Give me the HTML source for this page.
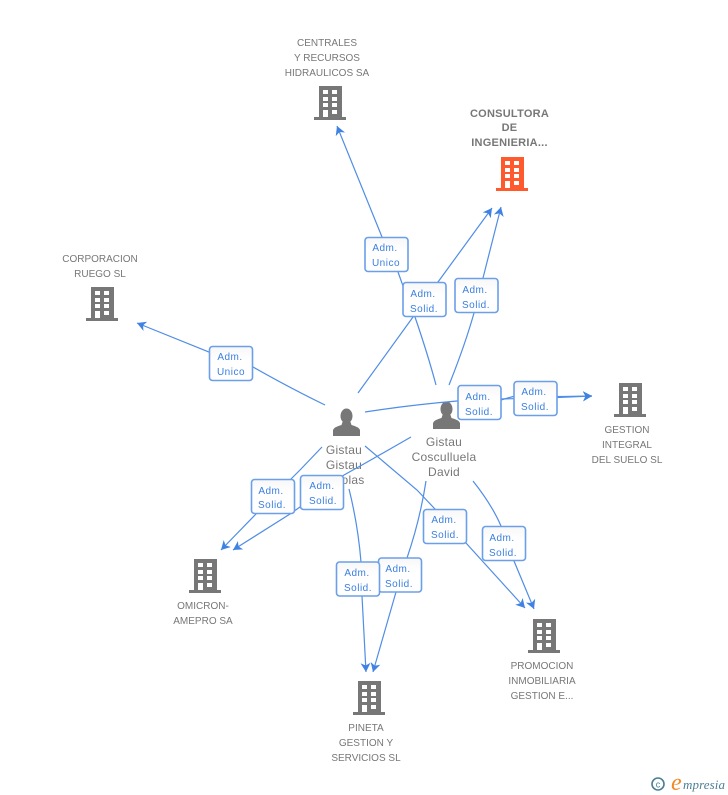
<!DOCTYPE html>
<html>
<head>
<meta charset="utf-8">
<style>
html,body{margin:0;padding:0;background:#fff;}
body{width:728px;height:795px;overflow:hidden;}
svg{display:block;}
.n{font:10px "Liberation Sans",sans-serif;fill:#777;text-anchor:middle;}
.b{font:bold 11px "Liberation Sans",sans-serif;fill:#777;text-anchor:middle;letter-spacing:.25px;}
.p{font:12px "Liberation Sans",sans-serif;fill:#777;text-anchor:middle;letter-spacing:.25px;}
.l{font:10px "Liberation Sans",sans-serif;fill:#3a7fe0;text-anchor:middle;letter-spacing:.5px;}
.a{fill:none;stroke:#4f8de6;stroke-width:1.2;marker-end:url(#ah);}
.box{fill:url(#g);stroke:#6b9fe9;stroke-width:1.6;}
</style>
</head>
<body>
<svg width="728" height="795" viewBox="0 0 728 795" xmlns="http://www.w3.org/2000/svg">
<defs>
<linearGradient id="g" x1="0" y1="0" x2="0" y2="1"><stop offset="0" stop-color="#f7f7f7"/><stop offset=".4" stop-color="#fff"/><stop offset="1" stop-color="#fff"/></linearGradient>
<marker id="ah" markerUnits="userSpaceOnUse" markerWidth="14" markerHeight="14" refX="9" refY="5" orient="auto">
<path d="M9,5 L0,0 L2.5,5 L0,10 Z" fill="#3f82e2"/>
</marker>
<g id="bld">
<rect x="5" y="0" width="23" height="32"/>
<rect x="0" y="31" width="32" height="3"/>
<g fill="#fff">
<rect x="9" y="4" width="5" height="4"/><rect x="18" y="4" width="5" height="4"/>
<rect x="9" y="11" width="5" height="4"/><rect x="18" y="11" width="5" height="4"/>
<rect x="9" y="17" width="5" height="4"/><rect x="18" y="17" width="5" height="4"/>
<rect x="9" y="24" width="5" height="7"/><rect x="18" y="24" width="5" height="4"/>
</g>
</g>
<g id="per">
<ellipse cx="13.500" cy="7" rx="6" ry="7.500"/>
<path d="M9.500,13 L17.500,13 L18.500,16 Q26,18 27,21 L27,27 L0,27 L0,21 Q1,18 8.500,16 Z"/>
</g>
</defs>

<!-- text -->
<text class="n" x="327" y="46">CENTRALES</text>
<text class="n" x="327" y="61">Y RECURSOS</text>
<text class="n" x="327" y="76">HIDRAULICOS SA</text>
<text class="b" x="509.500" y="117">CONSULTORA</text>
<text class="b" x="509.500" y="131">DE</text>
<text class="b" x="509.500" y="146">INGENIERIA...</text>
<text class="n" x="100" y="262">CORPORACION</text>
<text class="n" x="100" y="277">RUEGO SL</text>
<text class="n" x="627" y="433">GESTION</text>
<text class="n" x="627" y="448">INTEGRAL</text>
<text class="n" x="627" y="463">DEL SUELO SL</text>
<text class="n" x="203" y="609">OMICRON-</text>
<text class="n" x="203" y="624">AMEPRO SA</text>
<text class="n" x="542" y="669">PROMOCION</text>
<text class="n" x="542" y="684">INMOBILIARIA</text>
<text class="n" x="542" y="699">GESTION E...</text>
<text class="n" x="366" y="731">PINETA</text>
<text class="n" x="366" y="746">GESTION Y</text>
<text class="n" x="366" y="761">SERVICIOS SL</text>
<text class="p" x="344" y="454">Gistau</text>
<text class="p" x="344" y="469">Gistau</text>
<text class="p" x="344" y="484">Nicolas</text>
<text class="p" x="444" y="446">Gistau</text>
<text class="p" x="444" y="461">Cosculluela</text>
<text class="p" x="444" y="476">David</text>

<!-- icons -->
<use href="#bld" x="314" y="86" fill="#777"/>
<use href="#bld" x="496" y="157" fill="#ff5a2d"/>
<use href="#bld" x="86" y="287" fill="#777"/>
<use href="#bld" x="614" y="383" fill="#777"/>
<use href="#bld" x="189" y="559" fill="#777"/>
<use href="#bld" x="528" y="619" fill="#777"/>
<use href="#bld" x="353" y="681" fill="#777"/>
<use href="#per" x="333" y="409" fill="#777"/>
<use href="#per" x="433" y="402" fill="#777"/>

<!-- connectors -->
<path class="a" d="M436,385 Q428,355 415,317 Q405,292 398,272 L382,237 L337,126"/>
<path class="a" d="M358,393 L413,317 L438,282 L492,208"/>
<path class="a" d="M449,385 Q465,345 474,313 L483,278 L501,207"/>
<path class="a" d="M365,412 Q410,405 457,401 L501,399 L557,397.500 L592,396"/>
<path class="a" d="M501,400 L513,396.500 Q550,397 592,396"/>
<path class="a" d="M325,405 Q290,388 253,367 L209,352 L137,323"/>
<path class="a" d="M322,447 L300,470 L291,479 L256,514 L221,550"/>
<path class="a" d="M411,437 L362,465 L344,475 L300,507 L290,514 L233,550"/>
<path class="a" d="M365,446 L417,490 L435,509 L466,543 L525,608"/>
<path class="a" d="M473,481 Q492,505 501,526 L514,561 L534,609"/>
<path class="a" d="M349,489 Q358,525 361,562 L362,596 L366,672"/>
<path class="a" d="M426,481 Q420,520 407,558 L396,592 L373,672"/>

<!-- label boxes -->
<g>
<rect class="box" x="365" y="237.500" width="43" height="34" rx="3"/><text class="l" x="385" y="251">Adm.</text><text class="l" x="386" y="266">Unico</text>
<rect class="box" x="403" y="282.500" width="43" height="34" rx="3"/><text class="l" x="423" y="297">Adm.</text><text class="l" x="424" y="312">Solid.</text>
<rect class="box" x="455" y="278.500" width="43" height="34" rx="3"/><text class="l" x="475" y="293">Adm.</text><text class="l" x="476" y="308">Solid.</text>
<rect class="box" x="458" y="385.500" width="43" height="34" rx="3"/><text class="l" x="478" y="400">Adm.</text><text class="l" x="479" y="415">Solid.</text>
<rect class="box" x="514" y="381.500" width="43" height="34" rx="3"/><text class="l" x="534" y="395">Adm.</text><text class="l" x="535" y="410">Solid.</text>
<rect class="box" x="209.500" y="346.500" width="43" height="34" rx="3"/><text class="l" x="230" y="360">Adm.</text><text class="l" x="231" y="375">Unico</text>
<rect class="box" x="251.500" y="479.500" width="43" height="34" rx="3"/><text class="l" x="271" y="494">Adm.</text><text class="l" x="272" y="508">Solid.</text>
<rect class="box" x="300.500" y="475.500" width="43" height="34" rx="3"/><text class="l" x="322" y="489">Adm.</text><text class="l" x="323" y="504">Solid.</text>
<rect class="box" x="423.500" y="509.500" width="43" height="34" rx="3"/><text class="l" x="444" y="523">Adm.</text><text class="l" x="445" y="538">Solid.</text>
<rect class="box" x="482.500" y="526.500" width="43" height="34" rx="3"/><text class="l" x="502" y="541">Adm.</text><text class="l" x="503" y="556">Solid.</text>
<rect class="box" x="378.500" y="558" width="43" height="34" rx="3"/><text class="l" x="398" y="572">Adm.</text><text class="l" x="399" y="587">Solid.</text>
<rect class="box" x="336.500" y="562" width="43" height="34" rx="3"/><text class="l" x="357" y="576">Adm.</text><text class="l" x="358" y="591">Solid.</text>
</g>

<!-- logo -->
<circle cx="658" cy="784" r="6" fill="none" stroke="#4a7f95" stroke-width="1.600"/>
<text x="658" y="787.500" text-anchor="middle" style="font:9px 'Liberation Sans',sans-serif;fill:#4a7f95;">c</text>
<text x="671" y="790" style="font:italic 24px 'Liberation Serif',serif;fill:#f08a24;">e</text>
<text x="683" y="789" style="font:italic 13px 'Liberation Serif',serif;fill:#4a7f95;letter-spacing:.1px;">mpresia</text>
</svg>
</body>
</html>
